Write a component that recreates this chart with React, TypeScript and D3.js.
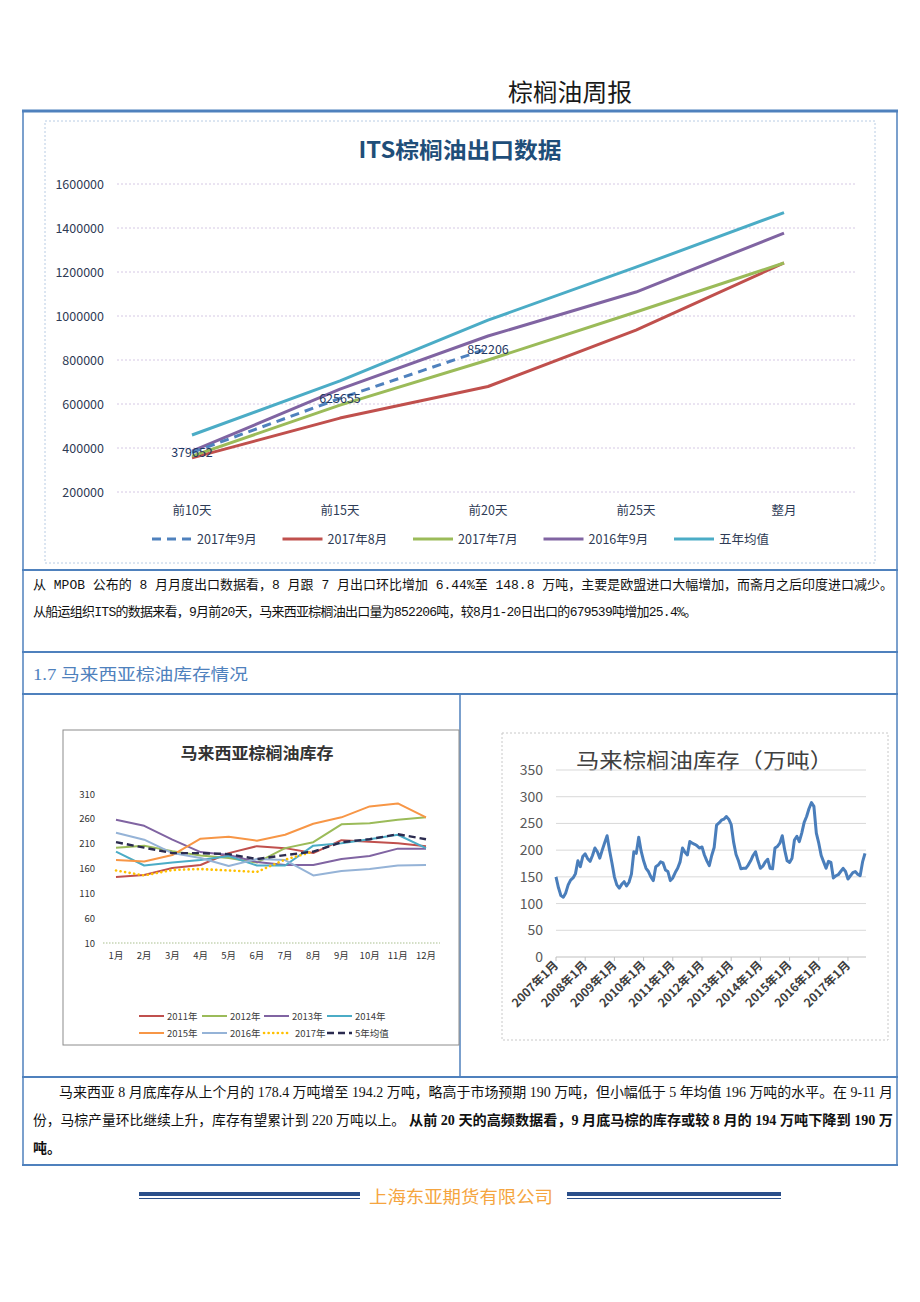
import React from "react";
import * as d3 from "d3";

// ---------- Data ----------
const itsCats = ["前10天", "前15天", "前20天", "前25天", "整月"];
const its2017Sep = [379652, 625655, 852206];
const its2017Aug = [355000, 536000, 679539, 936000, 1241000];
const its2017Jul = [363000, 595000, 800000, 1018000, 1241000];
const its2016Sep = [386000, 668000, 909000, 1109000, 1377000];
const itsFiveYr = [459000, 705000, 981000, 1222000, 1470000];
const itsYTicks = [200000, 400000, 600000, 800000, 1000000, 1200000, 1400000, 1600000];

const months = ["1月", "2月", "3月", "4月", "5月", "6月", "7月", "8月", "9月", "10月", "11月", "12月"];
const stk2011 = [143, 147, 161, 167, 191, 205, 201, 191, 217, 214, 211, 205];
const stk2012 = [202, 206, 195, 186, 181, 172, 201, 213, 249, 251, 258, 263];
const stk2013 = [258, 246, 218, 193, 187, 173, 167, 167, 179, 185, 200, 200];
const stk2014 = [194, 166, 172, 177, 185, 166, 166, 206, 211, 219, 228, 201];
const stk2015 = [177, 174, 187, 220, 224, 216, 228, 250, 263, 285, 291, 263];
const stk2016 = [232, 218, 191, 181, 165, 179, 177, 146, 155, 159, 166, 167];
const stk2017 = [156, 146, 157, 159, 156, 153, 178, 194];
const stkAvg5 = [213, 202, 191, 191, 189, 179, 187, 194, 213, 219, 229, 219];
const stkYTicks = [10, 60, 110, 160, 210, 260, 310];

// monthly Malaysian palm oil stocks (万吨), 2007-01 .. 2017-08
const monthlyStock = [
  150, 130, 115, 112, 120, 135, 144, 148, 156, 180, 169, 188,
  193, 184, 179, 190, 204, 197, 185, 200, 214, 227, 200, 176,
  150, 135, 129, 136, 141, 133, 140, 155, 197, 194, 224, 198,
  180, 166, 160, 150, 143, 169, 172, 178, 176, 163, 160, 143,
  148, 158, 166, 178, 204, 196, 191, 216, 213, 211, 208, 204,
  206, 191, 180, 171, 190, 205, 247, 251, 256, 258, 263, 258,
  248, 215, 192, 180, 165, 166, 166, 172, 180, 190, 197, 180,
  166, 170, 178, 183, 166, 165, 204, 207, 213, 227, 200, 180,
  177, 185, 219, 226, 216, 232, 252, 263, 278, 289, 282, 232,
  213, 190, 178, 166, 179, 177, 148, 152, 154, 160, 166, 160,
  146, 152, 158, 160, 155, 152, 178, 194,
];
const monthlyYTicks = [0, 50, 100, 150, 200, 250, 300, 350];
const yearLabels = ["2007年1月", "2008年1月", "2009年1月", "2010年1月", "2011年1月", "2012年1月", "2013年1月", "2014年1月", "2015年1月", "2016年1月", "2017年1月"];

// ---------- Styles ----------
const SANS = "'Noto Sans CJK SC', 'Noto Sans', sans-serif";
const SERIF = "'Liberation Serif', 'Noto Sans CJK SC', serif";
const MONO = "'Liberation Mono', 'Noto Sans CJK SC', monospace";
const FRAME = "#4F81BD";

export default function App() {
  // ---- top chart scales ----
  const xIts = d3.scalePoint<string>().domain(itsCats).range([192, 784]);
  const yIts = d3.scaleLinear().domain([200000, 1600000]).range([492, 184]);
  const lineIts = d3
    .line<number>()
    .x((_, i) => xIts(itsCats[i]) as number)
    .y((d) => yIts(d));
  const itsSeries = [
    { name: "2017年9月", data: its2017Sep, color: "#4F81BD", dash: "9,6" },
    { name: "2017年8月", data: its2017Aug, color: "#C0504D", dash: "" },
    { name: "2017年7月", data: its2017Jul, color: "#9BBB59", dash: "" },
    { name: "2016年9月", data: its2016Sep, color: "#8064A2", dash: "" },
    { name: "五年均值", data: itsFiveYr, color: "#4BACC6", dash: "" },
  ];
  const drawOrder = [1, 2, 3, 4, 0];

  // ---- left chart scales ----
  const xStk = d3.scalePoint<string>().domain(months).range([116, 426]);
  const yStk = d3.scaleLinear().domain([10, 310]).range([943, 794]);
  const lineStk = d3
    .line<number>()
    .x((_, i) => xStk(months[i]) as number)
    .y((d) => yStk(d));
  const stkSeries = [
    { name: "2011年", data: stk2011, color: "#C0504D", dash: "", w: 2 },
    { name: "2012年", data: stk2012, color: "#9BBB59", dash: "", w: 2 },
    { name: "2013年", data: stk2013, color: "#8064A2", dash: "", w: 2 },
    { name: "2014年", data: stk2014, color: "#4BACC6", dash: "", w: 2 },
    { name: "2015年", data: stk2015, color: "#F79646", dash: "", w: 2 },
    { name: "2016年", data: stk2016, color: "#95B3D7", dash: "", w: 2 },
    { name: "2017年", data: stk2017, color: "#FFC000", dash: "0.1,4.5", w: 2.6 },
    { name: "5年均值", data: stkAvg5, color: "#2B2B4F", dash: "7,4", w: 2.4 },
  ];
  const stkLegendX = [139, 202, 264, 327];
  const stkLegendY = [1016, 1033];

  // ---- right chart scales ----
  const xMon = d3.scaleLinear().domain([0, 127]).range([556, 865]);
  const yMon = d3.scaleLinear().domain([0, 350]).range([957, 770]);
  const lineMon = d3
    .line<number>()
    .x((_, i) => xMon(i))
    .y((d) => yMon(d));

  return (
    <svg
      width={920}
      height={1302}
      style={{ position: "absolute", left: 0, top: 0, background: "#fff" }}
      xmlns="http://www.w3.org/2000/svg"
    >
      <rect x={0} y={0} width={920} height={1302} fill="#fff" />

      {/* header */}
      <text x={508} y={101} fontFamily={SANS} fontSize={24} fill="#1a1a1a" textLength={124} lengthAdjust="spacingAndGlyphs">
        棕榈油周报
      </text>

      {/* frame */}
      <line x1={22} x2={898} y1={111} y2={111} stroke={FRAME} strokeWidth={3} />
      <line x1={23} x2={23} y1={111} y2={1165} stroke={FRAME} strokeWidth={1.5} />
      <line x1={897} x2={897} y1={111} y2={1165} stroke={FRAME} strokeWidth={1.5} />
      {[570, 652, 694, 1077, 1165].map((y) => (
        <line key={y} x1={22} x2={898} y1={y} y2={y} stroke={FRAME} strokeWidth={2} />
      ))}
      <line x1={460} x2={460} y1={694} y2={1077} stroke={FRAME} strokeWidth={1.5} />

      {/* ===== top chart ===== */}
      <rect x={45} y={121} width={830} height={442} fill="#fff" stroke="#B8CCE4" strokeWidth={1} strokeDasharray="2,2" />
      <text x={460} y={158} textAnchor="middle" fontFamily={SANS} fontWeight="bold" fontSize={22} fill="#1F4E79" textLength={203} lengthAdjust="spacingAndGlyphs">
        ITS棕榈油出口数据
      </text>
      {itsYTicks.map((t) => (
        <g key={t}>
          <line x1={117} x2={857} y1={yIts(t)} y2={yIts(t)} stroke="#D5C8E4" strokeWidth={1} strokeDasharray="2,2" />
          <text x={104} y={yIts(t) + 4.5} textAnchor="end" fontFamily={SANS} fontSize={12.5} fill="#2E3B55">
            {t}
          </text>
        </g>
      ))}
      {itsCats.map((c) => (
        <text key={c} x={xIts(c)} y={515} textAnchor="middle" fontFamily={SANS} fontSize={12.5} fill="#2E3B55">
          {c}
        </text>
      ))}
      {drawOrder.map((k) => {
        const s = itsSeries[k];
        return (
          <path key={s.name} d={lineIts(s.data) as string} fill="none" stroke={s.color} strokeWidth={3} strokeDasharray={s.dash || undefined} strokeLinejoin="round" />
        );
      })}
      {its2017Sep.map((v, i) => (
        <text key={v} x={(xIts(itsCats[i]) as number)} y={yIts(v) + 5} textAnchor="middle" fontFamily={SANS} fontSize={12.5} fill="#1F3864">
          {v}
        </text>
      ))}
      {itsSeries.map((s, i) => {
        const lx = 152 + i * 130.5;
        return (
          <g key={s.name}>
            <line x1={lx} x2={lx + 40} y1={539} y2={539} stroke={s.color} strokeWidth={3} strokeDasharray={s.dash || undefined} />
            <text x={lx + 45} y={544} fontFamily={SANS} fontSize={12.5} fill="#2E3B55">
              {s.name}
            </text>
          </g>
        );
      })}

      {/* paragraph 1 */}
      <text x={33} y={589} fontFamily={MONO} fontSize={13} fill="#111" textLength={860} lengthAdjust="spacingAndGlyphs">
        从 MPOB 公布的 8 月月度出口数据看，8 月跟 7 月出口环比增加 6.44%至 148.8 万吨，主要是欧盟进口大幅增加，而斋月之后印度进口减少。
      </text>
      <text x={33} y={616} fontFamily={MONO} fontSize={13} fill="#111" textLength={664} lengthAdjust="spacing">
        从船运组织ITS的数据来看，9月前20天，马来西亚棕榈油出口量为852206吨，较8月1-20日出口的679539吨增加25.4%。
      </text>

      {/* section heading */}
      <text x={33} y={680} fontFamily={SERIF} fontSize={16} fill="#4F81BD" textLength={215} lengthAdjust="spacingAndGlyphs">
        1.7 马来西亚棕油库存情况
      </text>

      {/* ===== left chart ===== */}
      <rect x={63} y={730} width={396} height={315} fill="#fff" stroke="#8C8C8C" strokeWidth={1} />
      <text x={257} y={759} textAnchor="middle" fontFamily={SANS} fontWeight="bold" fontSize={16} fill="#333" textLength={153} lengthAdjust="spacingAndGlyphs">
        马来西亚棕榈油库存
      </text>
      {stkYTicks.map((t) => (
        <text key={t} x={95} y={yStk(t) + 3.5} textAnchor="end" fontFamily={SANS} fontSize={9.5} fill="#333">
          {t}
        </text>
      ))}
      <line x1={103} x2={440} y1={yStk(10)} y2={yStk(10)} stroke="#A9C08E" strokeWidth={1.2} strokeDasharray="1.5,1.5" />
      {months.map((m) => (
        <text key={m} x={xStk(m)} y={959} textAnchor="middle" fontFamily={SANS} fontSize={9.5} fill="#333">
          {m}
        </text>
      ))}
      {stkSeries.map((s) => (
        <path key={s.name} d={lineStk(s.data) as string} fill="none" stroke={s.color} strokeWidth={s.w} strokeDasharray={s.dash || undefined} strokeLinecap={s.name === "2017年" ? "round" : "butt"} strokeLinejoin="round" />
      ))}
      {stkSeries.map((s, i) => {
        const lx = stkLegendX[i % 4];
        const ly = stkLegendY[Math.floor(i / 4)];
        return (
          <g key={s.name}>
            <line x1={lx} x2={lx + 25} y1={ly} y2={ly} stroke={s.color} strokeWidth={s.w} strokeDasharray={s.dash || undefined} strokeLinecap={s.name === "2017年" ? "round" : "butt"} />
            <text x={lx + (s.name === "2017年" ? 31 : 28)} y={ly + 3.5} fontFamily={SANS} fontSize={9.5} fill="#404040">
              {s.name}
            </text>
          </g>
        );
      })}

      {/* ===== right chart ===== */}
      <rect x={502} y={733} width={386} height={307} fill="#fff" stroke="#C8C8C8" strokeWidth={1} strokeDasharray="2,2" />
      <text x={576} y={768} fontFamily={SANS} fontSize={21} fill="#404040" textLength={257} lengthAdjust="spacingAndGlyphs">
        马来棕榈油库存（万吨）
      </text>
      {monthlyYTicks.map((t) => (
        <g key={t}>
          {t > 0 && (
            <line x1={556} x2={866} y1={yMon(t)} y2={yMon(t)} stroke="#D9D9D9" strokeWidth={1} />
          )}
          <text x={543} y={yMon(t) + 5} textAnchor="end" fontFamily={SANS} fontSize={14} fill="#595959">
            {t}
          </text>
        </g>
      ))}
      <line x1={556} x2={866} y1={yMon(0)} y2={yMon(0)} stroke="#BFBFBF" strokeWidth={1} />
      {yearLabels.map((lab, i) => {
        const tx = xMon(i * 12);
        return (
          <g key={lab}>
            <line x1={tx} x2={tx} y1={yMon(0)} y2={yMon(0) + 4} stroke="#BFBFBF" strokeWidth={1} />
            <text
              x={0}
              y={0}
              transform={`translate(${tx + 3},${yMon(0) + 9}) rotate(-45)`}
              textAnchor="end"
              fontFamily={SANS}
              fontWeight="bold"
              fontSize={12}
              fill="#404040"
            >
              {lab}
            </text>
          </g>
        );
      })}
      <path d={lineMon(monthlyStock) as string} fill="none" stroke="#4A7EBB" strokeWidth={3} strokeLinejoin="round" />

      {/* paragraph 2 */}
      <text x={59} y={1097} fontFamily={SERIF} fontSize={14} fill="#111" textLength={834} lengthAdjust="spacingAndGlyphs">
        马来西亚 8 月底库存从上个月的 178.4 万吨增至 194.2 万吨，略高于市场预期 190 万吨，但小幅低于 5 年均值 196 万吨的水平。在 9-11 月
      </text>
      <text x={33} y={1125} fontFamily={SERIF} fontSize={14} fill="#111" textLength={372} lengthAdjust="spacingAndGlyphs">
        份，马棕产量环比继续上升，库存有望累计到 220 万吨以上。
      </text>
      <text x={409} y={1125} fontFamily={SERIF} fontSize={14} fontWeight="bold" fill="#111" textLength={484} lengthAdjust="spacingAndGlyphs">
        从前 20 天的高频数据看，9 月底马棕的库存或较 8 月的 194 万吨下降到 190 万
      </text>
      <text x={33} y={1153} fontFamily={SERIF} fontSize={14} fontWeight="bold" fill="#111">
        吨。
      </text>

      {/* footer */}
      <rect x={139} y={1192} width={221} height={4} fill="#2B4F8A" />
      <line x1={139} x2={360} y1={1198.5} y2={1198.5} stroke="#2B4F8A" strokeWidth={1} />
      <rect x={567} y={1192} width={214} height={4} fill="#2B4F8A" />
      <line x1={567} x2={781} y1={1198.5} y2={1198.5} stroke="#2B4F8A" strokeWidth={1} />
      <text x={369} y={1203} fontFamily={SERIF} fontSize={17} fill="#F5A540" textLength={184} lengthAdjust="spacingAndGlyphs">
        上海东亚期货有限公司
      </text>
    </svg>
  );
}
